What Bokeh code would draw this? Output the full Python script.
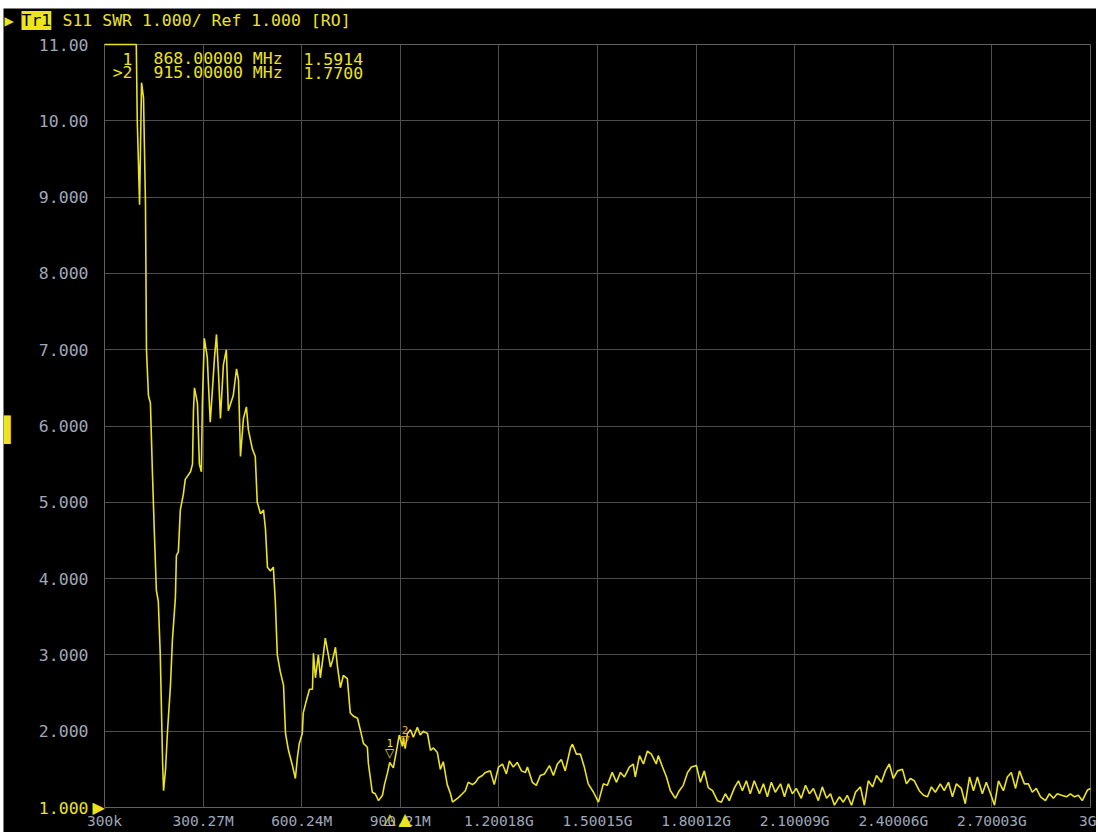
from bokeh.plotting import figure
from bokeh.models import Range1d, FixedTicker, Label, BoxAnnotation
from bokeh.embed import file_html
from bokeh.resources import INLINE

# ---- data ----
freq_mhz = [0.3, 49, 97, 100, 107, 113, 119, 125, 128, 134, 140, 146, 152, 158, 164, 170, 177, 180,
            186, 192, 201, 207, 216, 219, 225, 231, 240, 246, 262, 268, 271, 274, 283, 289, 295, 298,
            304, 313, 316, 322, 329, 335, 341, 347, 353, 362, 371, 377, 392, 402, 408, 414, 423, 432,
            438, 450, 459, 465, 475, 484, 490, 496, 505, 514, 520, 526, 535, 545, 551, 560, 572, 581,
            587, 593, 602, 605, 615, 624, 633, 636, 642, 651, 657, 666, 672, 678, 688, 694, 703, 709,
            718, 727, 739, 748, 757, 770, 779, 788, 800, 803, 809, 815, 824, 834, 846, 852, 861, 868,
            879, 891, 897, 907, 910, 915, 922, 931, 940, 952, 961, 970, 983, 992, 1001, 1013, 1022,
            1031, 1043, 1053, 1059, 1068, 1077, 1089, 1098, 1107, 1120, 1129, 1138, 1150, 1159, 1174,
            1186, 1199, 1211, 1223, 1232, 1244, 1256, 1269, 1281, 1287, 1302, 1314, 1326, 1339, 1354,
            1366, 1378, 1390, 1402, 1418, 1424, 1436, 1448, 1460, 1472, 1488, 1503, 1518, 1530, 1545,
            1558, 1570, 1582, 1597, 1609, 1615, 1628, 1640, 1652, 1664, 1679, 1685, 1698, 1710, 1722,
            1737, 1749, 1761, 1774, 1786, 1801, 1813, 1825, 1837, 1850, 1865, 1877, 1889, 1901, 1917,
            1929, 1941, 1953, 1965, 1977, 1993, 2005, 2017, 2029, 2041, 2057, 2069, 2081, 2093, 2105,
            2120, 2133, 2145, 2157, 2172, 2184, 2197, 2209, 2221, 2236, 2248, 2260, 2273, 2285, 2300,
            2312, 2324, 2337, 2349, 2364, 2376, 2388, 2400, 2413, 2428, 2440, 2452, 2464, 2479, 2492,
            2504, 2516, 2528, 2543, 2555, 2568, 2580, 2592, 2607, 2619, 2632, 2644, 2656, 2671, 2683,
            2696, 2708, 2720, 2735, 2747, 2759, 2772, 2784, 2799, 2811, 2823, 2835, 2848, 2863, 2875,
            2887, 2899, 2912, 2927, 2939, 2951, 2963, 2975, 2991, 3000]
swr = [11.0, 11.0, 11.0, 10.0, 8.9, 10.5, 10.3, 8.9, 7.0, 6.4, 6.3, 5.4, 4.6, 3.85, 3.7, 3.0, 1.6, 1.22,
       1.5, 2.0, 2.6, 3.2, 3.75, 4.3, 4.35, 4.9, 5.1, 5.3, 5.4, 5.5, 6.2, 6.5, 6.3, 5.5, 5.4, 6.3,
       7.15, 6.9, 6.6, 6.05, 6.5, 6.9, 7.2, 6.7, 6.1, 6.8, 7.0, 6.2, 6.4, 6.75, 6.6, 5.6, 6.1, 6.25,
       5.95, 5.7, 5.6, 5.0, 4.85, 4.9, 4.65, 4.15, 4.1, 4.15, 3.7, 3.0, 2.78, 2.6, 1.97, 1.75, 1.55, 1.38,
       1.65, 1.84, 1.97, 2.24, 2.41, 2.55, 2.55, 3.02, 2.7, 3.0, 2.7, 3.0, 3.22, 3.08, 2.84, 2.93, 3.1, 2.85,
       2.57, 2.73, 2.69, 2.24, 2.2, 2.17, 2.01, 1.84, 1.79, 1.58, 1.39, 1.2, 1.18, 1.09, 1.16, 1.3, 1.45, 1.59,
       1.52, 1.8, 1.95, 1.8, 1.92, 1.77, 1.97, 2.02, 1.92, 2.05, 1.95, 2.0, 1.97, 1.75, 1.78, 1.72, 1.5,
       1.6, 1.3, 1.18, 1.07, 1.1, 1.13, 1.18, 1.22, 1.33, 1.3, 1.33, 1.39, 1.42, 1.46, 1.48,
       1.3, 1.53, 1.57, 1.44, 1.61, 1.53, 1.59, 1.48, 1.46, 1.53, 1.33, 1.29, 1.42, 1.44, 1.55,
       1.42, 1.57, 1.63, 1.48, 1.78, 1.83, 1.70, 1.70, 1.53, 1.31, 1.2, 1.07, 1.31, 1.29, 1.46,
       1.33, 1.46, 1.40, 1.53, 1.57, 1.40, 1.68, 1.57, 1.74, 1.70, 1.57, 1.68, 1.53, 1.40, 1.22,
       1.12, 1.22, 1.29, 1.46, 1.53, 1.55, 1.33, 1.48, 1.26, 1.22, 1.09, 1.07, 1.18, 1.09, 1.26,
       1.35, 1.22, 1.35, 1.18, 1.35, 1.18, 1.31, 1.14, 1.33, 1.20, 1.31, 1.14, 1.31, 1.18, 1.25,
       1.12, 1.29, 1.18, 1.25, 1.09, 1.27, 1.12, 1.18, 1.03, 1.14, 1.07, 1.16, 1.03, 1.20, 1.27,
       1.03, 1.35, 1.27, 1.42, 1.33, 1.48, 1.57, 1.38, 1.48, 1.50, 1.31, 1.38, 1.35, 1.22, 1.16,
       1.14, 1.27, 1.20, 1.31, 1.22, 1.33, 1.14, 1.31, 1.25, 1.05, 1.40, 1.22, 1.40, 1.18, 1.33,
       1.18, 1.03, 1.35, 1.22, 1.40, 1.46, 1.25, 1.48, 1.31, 1.31, 1.20, 1.25, 1.14, 1.09, 1.18,
       1.12, 1.18, 1.16, 1.14, 1.18, 1.14, 1.16, 1.09, 1.23, 1.25]

x_ticks = [0.3, 300.27, 600.24, 900.21, 1200.18, 1500.15, 1800.12, 2100.09, 2400.06, 2700.03, 3000.0]
x_labels = ["300k", "300.27M", "600.24M", "900.21M", "1.20018G", "1.50015G", "1.80012G",
            "2.10009G", "2.40006G", "2.70003G", "3G"]
y_ticks = [1, 2, 3, 4, 5, 6, 7, 8, 9, 10, 11]
y_labels = ["", "2.000", "3.000", "4.000", "5.000", "6.000", "7.000", "8.000", "9.000", "10.00", "11.00"]

header_trace = "Tr1"
header_text = "S11 SWR 1.000/ Ref 1.000 [RO]"
marker_ids = ["1", ">2"]
marker_freqs = [868.0, 915.0]
marker_freq_text = ["868.00000 MHz", "915.00000 MHz"]
marker_swr = [1.5914, 1.7700]
marker_swr_text = ["1.5914", "1.7700"]

YEL = "#ece41c"
LBL = "#9ea8ba"
MONO = "DejaVu Sans Mono"

# canvas: 1093 x 824 px; data box 986 x 763 px placed 101 px from left, 36 px from top
W, H = 1093, 824
xs, ys = 986 / 2999.7, 763 / 10.0
x_start = 0.3 - 101 / xs
y_start = 1 - 25 / ys
p = figure(width=W, height=H, output_backend="svg", toolbar_location=None,
           x_range=Range1d(x_start, x_start + W / xs), y_range=Range1d(y_start, y_start + H / ys),
           background_fill_color="black", border_fill_color="black",
           min_border=0, outline_line_color=None, margin=(8, 0, 0, 3))
p.title.visible = False

# grid + frame of the data box
p.xgrid.ticker = FixedTicker(ticks=x_ticks)
p.ygrid.ticker = FixedTicker(ticks=y_ticks)
p.xgrid.grid_line_color = "#4e4e4e"
p.ygrid.grid_line_color = "#4e4e52"
p.xgrid.cross_bounds = (1, 11)
p.ygrid.cross_bounds = (0.3, 3000)
p.add_layout(BoxAnnotation(left=0.3, right=3000, bottom=1, top=11, fill_alpha=0,
                           line_color="#8a8a8a", line_width=1, level="underlay"))

p.line(freq_mhz, swr, line_color=YEL, line_width=1.6)

for ax, ticks, labels, loc, bnds in ((p.xaxis, x_ticks, x_labels, 1, (0.3, 3000)),
                                     (p.yaxis, y_ticks, y_labels, 0.3, (1, 11))):
    ax.ticker = FixedTicker(ticks=ticks)
    ax.major_label_overrides = dict(zip(ticks, labels))
    ax.fixed_location = loc
    ax.bounds = bnds
    ax.axis_line_color = None
    ax.major_tick_line_color = None
    ax.minor_tick_line_color = None
    ax.major_tick_out = 0
    ax.major_tick_in = 0
    ax.major_label_text_font = MONO
    ax.major_label_text_color = LBL

p.xaxis.major_label_text_font_size = "14.5px"
p.xaxis.major_label_standoff = 5
p.yaxis.major_label_text_font_size = "16.5px"
p.yaxis.major_label_standoff = 16


def lab(text, x, y, xo, yo, color=YEL, size="16.5px", align="left", base="middle", font=MONO, bg=None):
    p.add_layout(Label(x=x, y=y, x_offset=xo, y_offset=yo, text=text, text_color=color,
                       text_font=font, text_font_size=size, text_align=align, text_baseline=base,
                       background_fill_color=bg))


x0, ytop = x_ticks[0], y_ticks[-1]

# header
lab("\u25b6", x0, ytop, -100, 24, size="12px", font="DejaVu Sans")
lab(header_trace, x0, ytop, -83, 24, color="black", bg=YEL)
lab(header_text, x0, ytop, -42, 24)

# marker table
for i in range(2):
    lab(marker_ids[i], x0, ytop, 28, -14 - 14 * i, align="right")
    lab(marker_freq_text[i], x0, ytop, 49, -14 - 14 * i)
    lab(marker_swr_text[i], x0, ytop, 199, -14 - 14 * i)

# reference level on the left
lab("1.000", x0, 1, -16, 0, align="right")
lab("\u25b6", x0, 1, -12, 0, size="16px", font="DejaVu Sans")
lab("\u258c", x0, 5.95, -101, 0, size="24px")

# marker symbols on the trace
for i, (mf, ms) in enumerate(zip(marker_freqs, marker_swr)):
    col = YEL if i == 0 else "#f0b030"
    lab("\u25bd", mf, ms, 0, 2, color=col, size="12px", align="center", base="bottom", font="DejaVu Sans")
    lab(marker_ids[i][-1], mf, ms, 0, 15, color=col, size="11px", align="center", base="bottom")

# marker symbols under the axis
lab("\u25b3", marker_freqs[0], 1, 0, -2, size="15px", align="center", base="top", font="DejaVu Sans")
lab("\u25b2", marker_freqs[1], 1, 0, -1, size="17px", align="center", base="top", font="DejaVu Sans")

open("out.html", "w").write(file_html(p, INLINE))
